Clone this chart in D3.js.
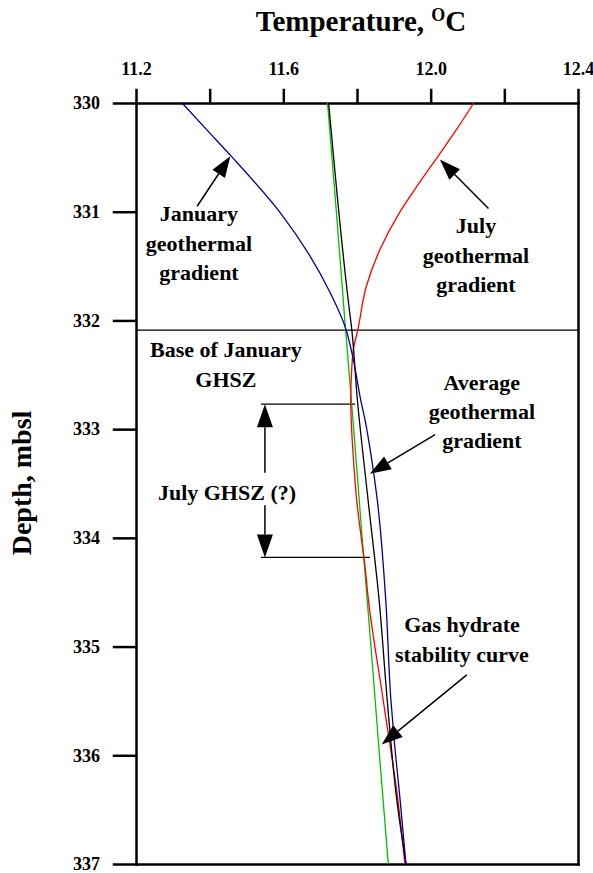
<!DOCTYPE html>
<html lang="en">
<head>
<meta charset="UTF-8">
<title>Temperature vs depth</title>
<style>
  body { margin: 0; background: #fff; }
  svg { display: block; font-family: 'Liberation Serif', 'Times New Roman', serif; font-weight: bold; }
  .axis path, .axis line { stroke: #000; stroke-width: 2.5; stroke-linecap: square; }
  .axis text { font-family: 'Liberation Serif', 'Times New Roman', serif; font-size: 18px; font-weight: bold; fill: #000; }
  .note { font-size: 22px; fill: #000; }
  .curve { fill: none; stroke-width: 1.3; }
</style>
</head>
<body>
<svg id="chart" width="593" height="873"></svg>
<script src="https://d3js.org/d3.v7.min.js"></script>
<script>
// axis ticks
const tempTicks = [11.2, 11.4, 11.6, 11.8, 12.0, 12.2, 12.4];
const tempLabelled = [11.2, 11.6, 12.0, 12.4];
const depthTicks = [330, 331, 332, 333, 334, 335, 336, 337];

// January geothermal gradient (blue)
const janDepth = [330.00, 330.25, 330.48, 331.01, 331.41, 331.75, 332.06, 332.36, 332.73, 332.92, 333.28, 333.65, 334.57, 335.49, 335.86, 336.41, 337.00];
const janTemp  = [11.325, 11.393, 11.456, 11.592, 11.673, 11.728, 11.768, 11.790, 11.810, 11.822, 11.840, 11.855, 11.878, 11.892, 11.901, 11.917, 11.933];

// July geothermal gradient (red)
const julDepth = [330.00, 330.25, 330.46, 330.74, 331.01, 331.35, 331.69, 332.09, 332.27, 332.43, 332.73, 333.04, 333.35, 333.65, 333.96, 334.27, 334.57, 335.49, 336.41, 337.00];
const julTemp  = [12.117, 12.069, 12.026, 11.968, 11.915, 11.862, 11.825, 11.802, 11.790, 11.786, 11.783, 11.786, 11.792, 11.799, 11.810, 11.822, 11.831, 11.871, 11.911, 11.930];

// average geothermal gradient (black)
const avgDepth = [330.00, 331.81, 332.09, 332.73, 333.65, 334.57, 335.49, 336.41, 337.00];
const avgTemp  = [11.723, 11.776, 11.786, 11.801, 11.830, 11.860, 11.882, 11.908, 11.933];

// gas hydrate stability curve (green)
const ghsDepth = [330, 331, 332, 333, 334, 335, 336, 337];
const ghsTemp  = [11.720, 11.744, 11.767, 11.791, 11.814, 11.838, 11.861, 11.885];

// GHSZ markers
const janBase = 332.09;
const julyTop = 332.77;
const julyBottom = 334.18;

const svg = d3.select('#chart');
svg.append('rect').attr('width', 593).attr('height', 873).attr('fill', '#fff');

const x = d3.scaleLinear().domain([11.2, 12.4]).range([136, 578]);
const y = d3.scaleLinear().domain([330, 337]).range([103, 864]);

// axes
svg.append('g')
    .attr('class', 'axis')
    .attr('transform', `translate(0,${y(330)})`)
    .call(d3.axisTop(x).tickValues(tempTicks).tickSize(13).tickSizeOuter(0).tickPadding(15)
        .tickFormat(d => tempLabelled.includes(d) ? d.toFixed(1) : ''));

svg.append('g')
    .attr('class', 'axis')
    .attr('transform', `translate(${x(11.2)},0)`)
    .call(d3.axisLeft(y).tickValues(depthTicks).tickSize(22).tickSizeOuter(0).tickPadding(14)
        .tickFormat(d3.format('d')));

svg.append('g')
    .attr('class', 'axis')
    .attr('transform', `translate(${x(12.4)},0)`)
    .call(d3.axisRight(y).tickValues([]).tickSizeOuter(0));

svg.append('g')
    .attr('class', 'axis')
    .attr('transform', `translate(0,${y(337)})`)
    .call(d3.axisBottom(x).tickValues([]).tickSizeOuter(0));

// axis titles
const title = svg.append('text')
    .attr('x', 361).attr('y', 31)
    .attr('text-anchor', 'middle')
    .style('font-size', '29px');
title.append('tspan').text('Temperature, ');
title.append('tspan').attr('dy', -10).style('font-size', '18px').text('O');
title.append('tspan').attr('dy', 10).text('C');

svg.append('text')
    .attr('transform', 'translate(31,483) rotate(-90)')
    .attr('text-anchor', 'middle')
    .style('font-size', '28px')
    .text('Depth, mbsl');

// horizontal markers
svg.append('line')
    .attr('x1', x(11.2)).attr('x2', x(12.4))
    .attr('y1', y(janBase)).attr('y2', y(janBase))
    .attr('stroke', '#000').attr('stroke-width', 1.2);

svg.append('line')
    .attr('x1', x(11.539)).attr('x2', x(11.795))
    .attr('y1', y(julyTop)).attr('y2', y(julyTop))
    .attr('stroke', '#000').attr('stroke-width', 1.2);

svg.append('line')
    .attr('x1', x(11.539)).attr('x2', x(11.835))
    .attr('y1', y(julyBottom)).attr('y2', y(julyBottom))
    .attr('stroke', '#000').attr('stroke-width', 1.2);

// curves
const line = d3.line()
    .x(d => x(d[1]))
    .y(d => y(d[0]))
    .curve(d3.curveMonotoneY);

const series = [
    { depth: ghsDepth, temp: ghsTemp, color: '#00c000' },
    { depth: julDepth, temp: julTemp, color: '#ff0000' },
    { depth: avgDepth, temp: avgTemp, color: '#000000' },
    { depth: janDepth, temp: janTemp, color: '#000099' }
];

series.forEach(s => {
    svg.append('path')
        .datum(s.depth.map((d, i) => [d, s.temp[i]]))
        .attr('class', 'curve')
        .attr('stroke', s.color)
        .attr('d', line);
});

// arrows, tail -> tip in data coords
function arrow(t1, d1, t2, d2, len = 21, half = 7.5) {
    const x1 = x(t1), y1 = y(d1), x2 = x(t2), y2 = y(d2);
    const dx = x2 - x1, dy = y2 - y1;
    const L = Math.hypot(dx, dy);
    const ux = dx / L, uy = dy / L;
    const bx = x2 - ux * len, by = y2 - uy * len;
    svg.append('line')
        .attr('x1', x1).attr('y1', y1).attr('x2', bx).attr('y2', by)
        .attr('stroke', '#000').attr('stroke-width', 1.5);
    svg.append('polygon')
        .attr('points', [[x2, y2], [bx - uy * half, by + ux * half], [bx + uy * half, by - ux * half]].map(p => p.join(',')).join(' '))
        .attr('fill', '#000');
}

arrow(11.366, 330.95, 11.456, 330.49);
arrow(12.157, 330.97, 12.025, 330.52);
arrow(12.012, 333.05, 11.835, 333.41);
arrow(12.098, 335.26, 11.867, 335.90);
arrow(11.55, 333.40, 11.55, julyTop, 23, 8);
arrow(11.55, 333.70, 11.55, julyBottom, 23, 8);

// labels
function note(lines, t, d, step = 29.5) {
    const txt = svg.append('text')
        .attr('class', 'note')
        .attr('text-anchor', 'middle')
        .attr('x', x(t)).attr('y', y(d));
    lines.forEach((s, i) => {
        txt.append('tspan').attr('x', x(t)).attr('dy', i === 0 ? 0 : step).text(s);
    });
}

note(['January', 'geothermal', 'gradient'], 11.371, 331.09);
note(['July', 'geothermal', 'gradient'], 12.123, 331.20);
note(['Average', 'geothermal', 'gradient'], 12.139, 332.64, 29);
note(['Gas hydrate', 'stability curve'], 12.085, 334.87, 30);
note(['Base of January', 'GHSZ'], 11.444, 332.34, 30);
note(['July GHSZ (?)'], 11.447, 333.65);
</script>
</body>
</html>
